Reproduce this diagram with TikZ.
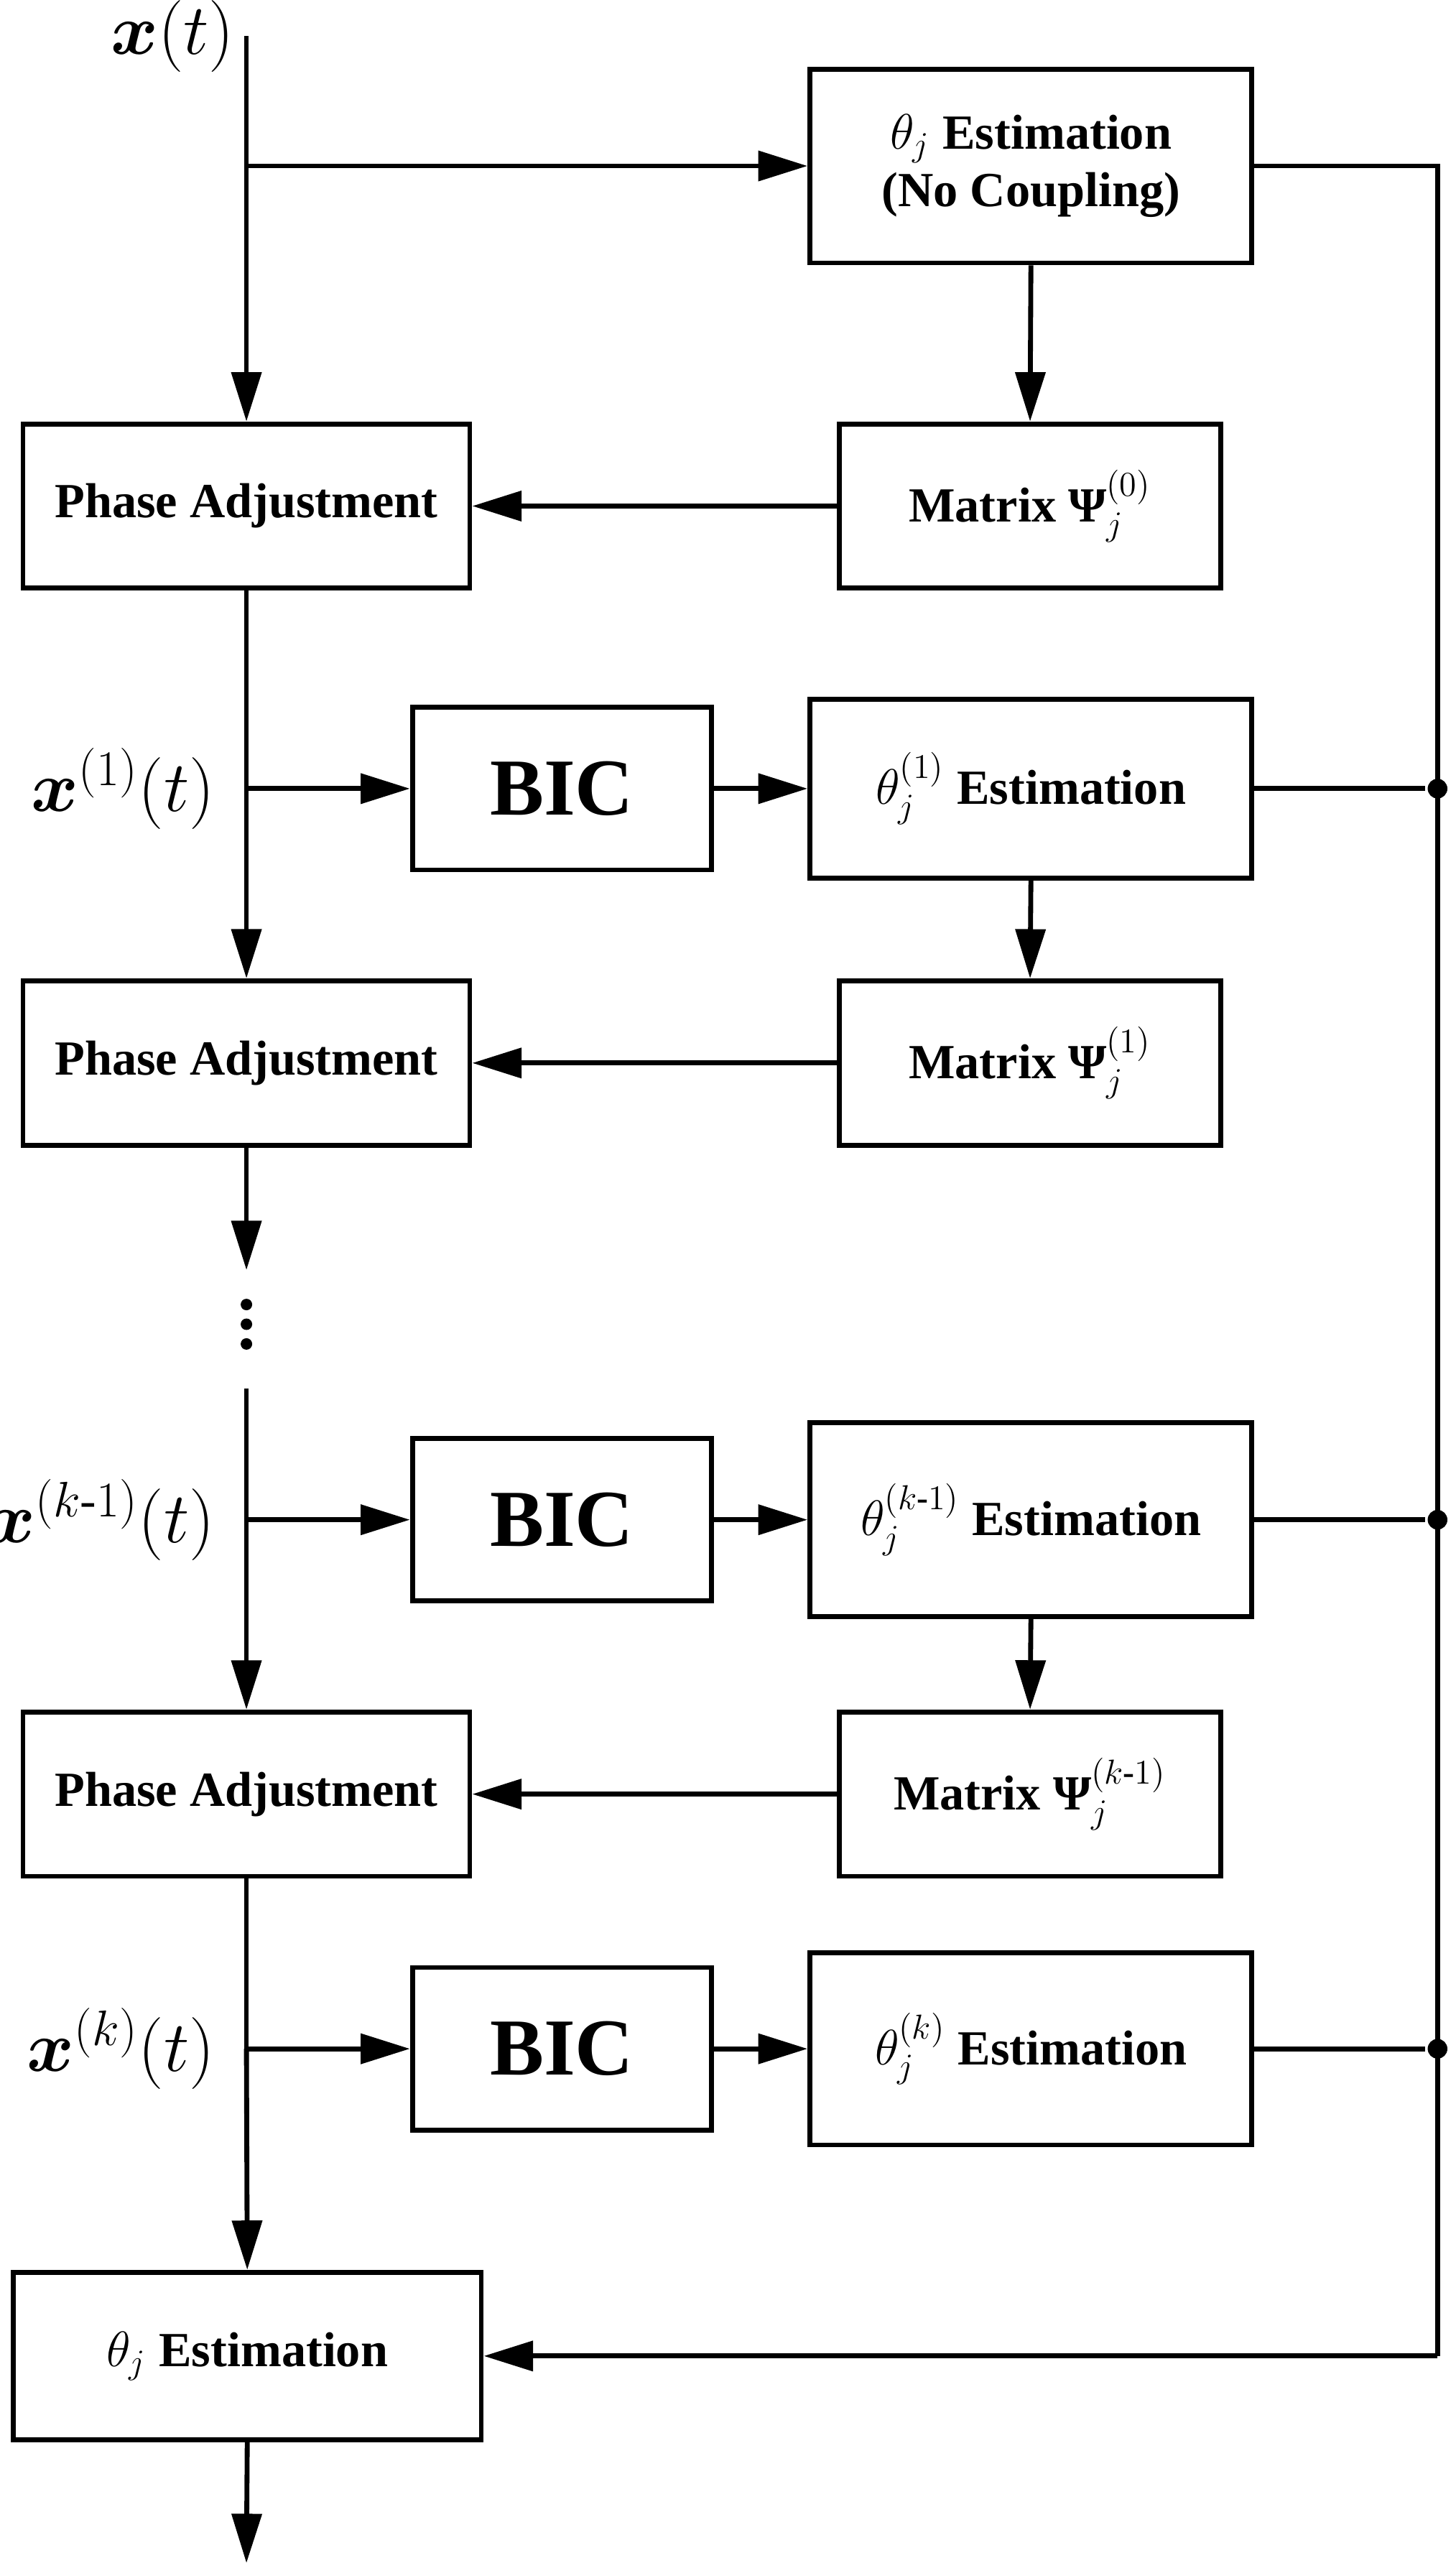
\documentclass[tikz,border=0pt]{standalone}
\usepackage{fontspec}
\usepackage{amsmath,bm}
\setmainfont{Liberation Serif}
\usetikzlibrary{arrows.meta}
\newcommand{\mypsi}{\textbf{Ψ}}
\begin{document}
\begin{tikzpicture}[x=0.02cm,y=-0.02cm,
  line width=1.7pt,
  arr/.style={-{Triangle[length=0.6cm,width=0.36cm]}},
  box/.style={draw,line width=1.7pt,font=\bfseries\fontsize{17}{20}\selectfont,align=center,inner sep=0pt},
  pa/.style={box,minimum width=5.44cm,minimum height=2cm,font=\bfseries\fontsize{17}{20}\selectfont},
  mat/.style={box,minimum width=4.64cm,minimum height=2cm},
  est/.style={box,minimum width=5.38cm},
  bic/.style={box,minimum width=3.64cm,minimum height=1.98cm,font=\bfseries\fontsize{28}{30}\selectfont},
  lab/.style={font=\fontsize{24}{28}\selectfont},
  dot/.style={circle,fill,inner sep=0pt,minimum size=0.24cm},
  sdot/.style={circle,fill,inner sep=0pt,minimum size=0.14cm}]
\useasboundingbox (0,0) rectangle (886,1560);
% top
\node[lab] (x0) at (105,22) {$\bm{x}(t)$};
\coordinate (top) at (150,22);
\node[est,minimum height=2.36cm] (e0) at (627.5,101) {$\theta_j$ Estimation\\(No Coupling)};
\node[mat] (m0) at (627,308) {Matrix \mypsi$_j^{(0)}$};
\node[pa] (p1) at (150,308) {Phase Adjustment};
\coordinate (b0) at (150,101);
\draw (top) -- (b0);
\draw[arr] (b0) -- (e0.west);
\draw[arr] (b0) -- (p1.north);
\draw[arr] (e0.south) -- (m0.north);
\draw[arr] (m0.west) -- (p1.east);
% stage 1
\node[lab,anchor=east] (x1) at (138,480) {$\bm{x}^{(1)}(t)$};
\node[bic] (bic1) at (342,480) {BIC};
\node[est,minimum height=2.18cm] (e1) at (627.5,480) {$\theta_j^{(1)}$ Estimation};
\node[mat] (m1) at (627,647) {Matrix \mypsi$_j^{(1)}$};
\node[pa] (p2) at (150,647) {Phase Adjustment};
\coordinate (b1) at (150,480);
\draw (p1.south) -- (b1);
\draw[arr] (b1) -- (bic1.west);
\draw[arr] (b1) -- (p2.north);
\draw[arr] (bic1.east) -- (e1.west);
\draw[arr] (e1.south) -- (m1.north);
\draw[arr] (m1.west) -- (p2.east);
% dots
\coordinate (d1) at (150,773);
\draw[arr] (p2.south) -- (d1);
\node[sdot] (v1) at (150,794) {};
\node[sdot] (v2) at (150,806) {};
\node[sdot] (v3) at (150,818) {};
\coordinate (d2) at (150,845);
% stage k-1
\node[lab,anchor=east] (xk1) at (138,925) {$\bm{x}^{(k\text{-}1)}(t)$};
\node[bic] (bic2) at (342,925) {BIC};
\node[est,minimum height=2.36cm] (e2) at (627.5,925) {$\theta_j^{(k\text{-}1)}$ Estimation};
\node[mat] (m2) at (627,1092) {Matrix \mypsi$_j^{(k\text{-}1)}$};
\node[pa] (p3) at (150,1092) {Phase Adjustment};
\coordinate (b2) at (150,925);
\draw (d2) -- (b2);
\draw[arr] (b2) -- (bic2.west);
\draw[arr] (b2) -- (p3.north);
\draw[arr] (bic2.east) -- (e2.west);
\draw[arr] (e2.south) -- (m2.north);
\draw[arr] (m2.west) -- (p3.east);
% stage k
\node[lab,anchor=east] (xk) at (138,1247) {$\bm{x}^{(k)}(t)$};
\node[bic] (bic3) at (342,1247) {BIC};
\node[est,minimum height=2.34cm] (e3) at (627.5,1247) {$\theta_j^{(k)}$ Estimation};
\node[box,minimum width=5.7cm,minimum height=2.04cm] (fin) at (150.5,1434) {$\theta_j$ Estimation};
\coordinate (b3) at (150,1247);
\draw (p3.south) -- (b3);
\draw[arr] (b3) -- (bic3.west);
\draw[arr] (b3) -- (fin.north);
\draw[arr] (bic3.east) -- (e3.west);
\coordinate (out) at (150,1560);
\draw[arr] (fin.south) -- (out);
% feedback bus
\coordinate (r0) at (875,101);
\node[dot] (j1) at (875,480) {};
\node[dot] (j2) at (875,925) {};
\node[dot] (j3) at (875,1247) {};
\coordinate (r4) at (875,1434);
\draw (e0.east) -- (r0) -- (r4);
\draw (e1.east) -- (j1);
\draw (e2.east) -- (j2);
\draw (e3.east) -- (j3);
\draw[arr] (r4) -- (fin.east);
\end{tikzpicture}
\end{document}
